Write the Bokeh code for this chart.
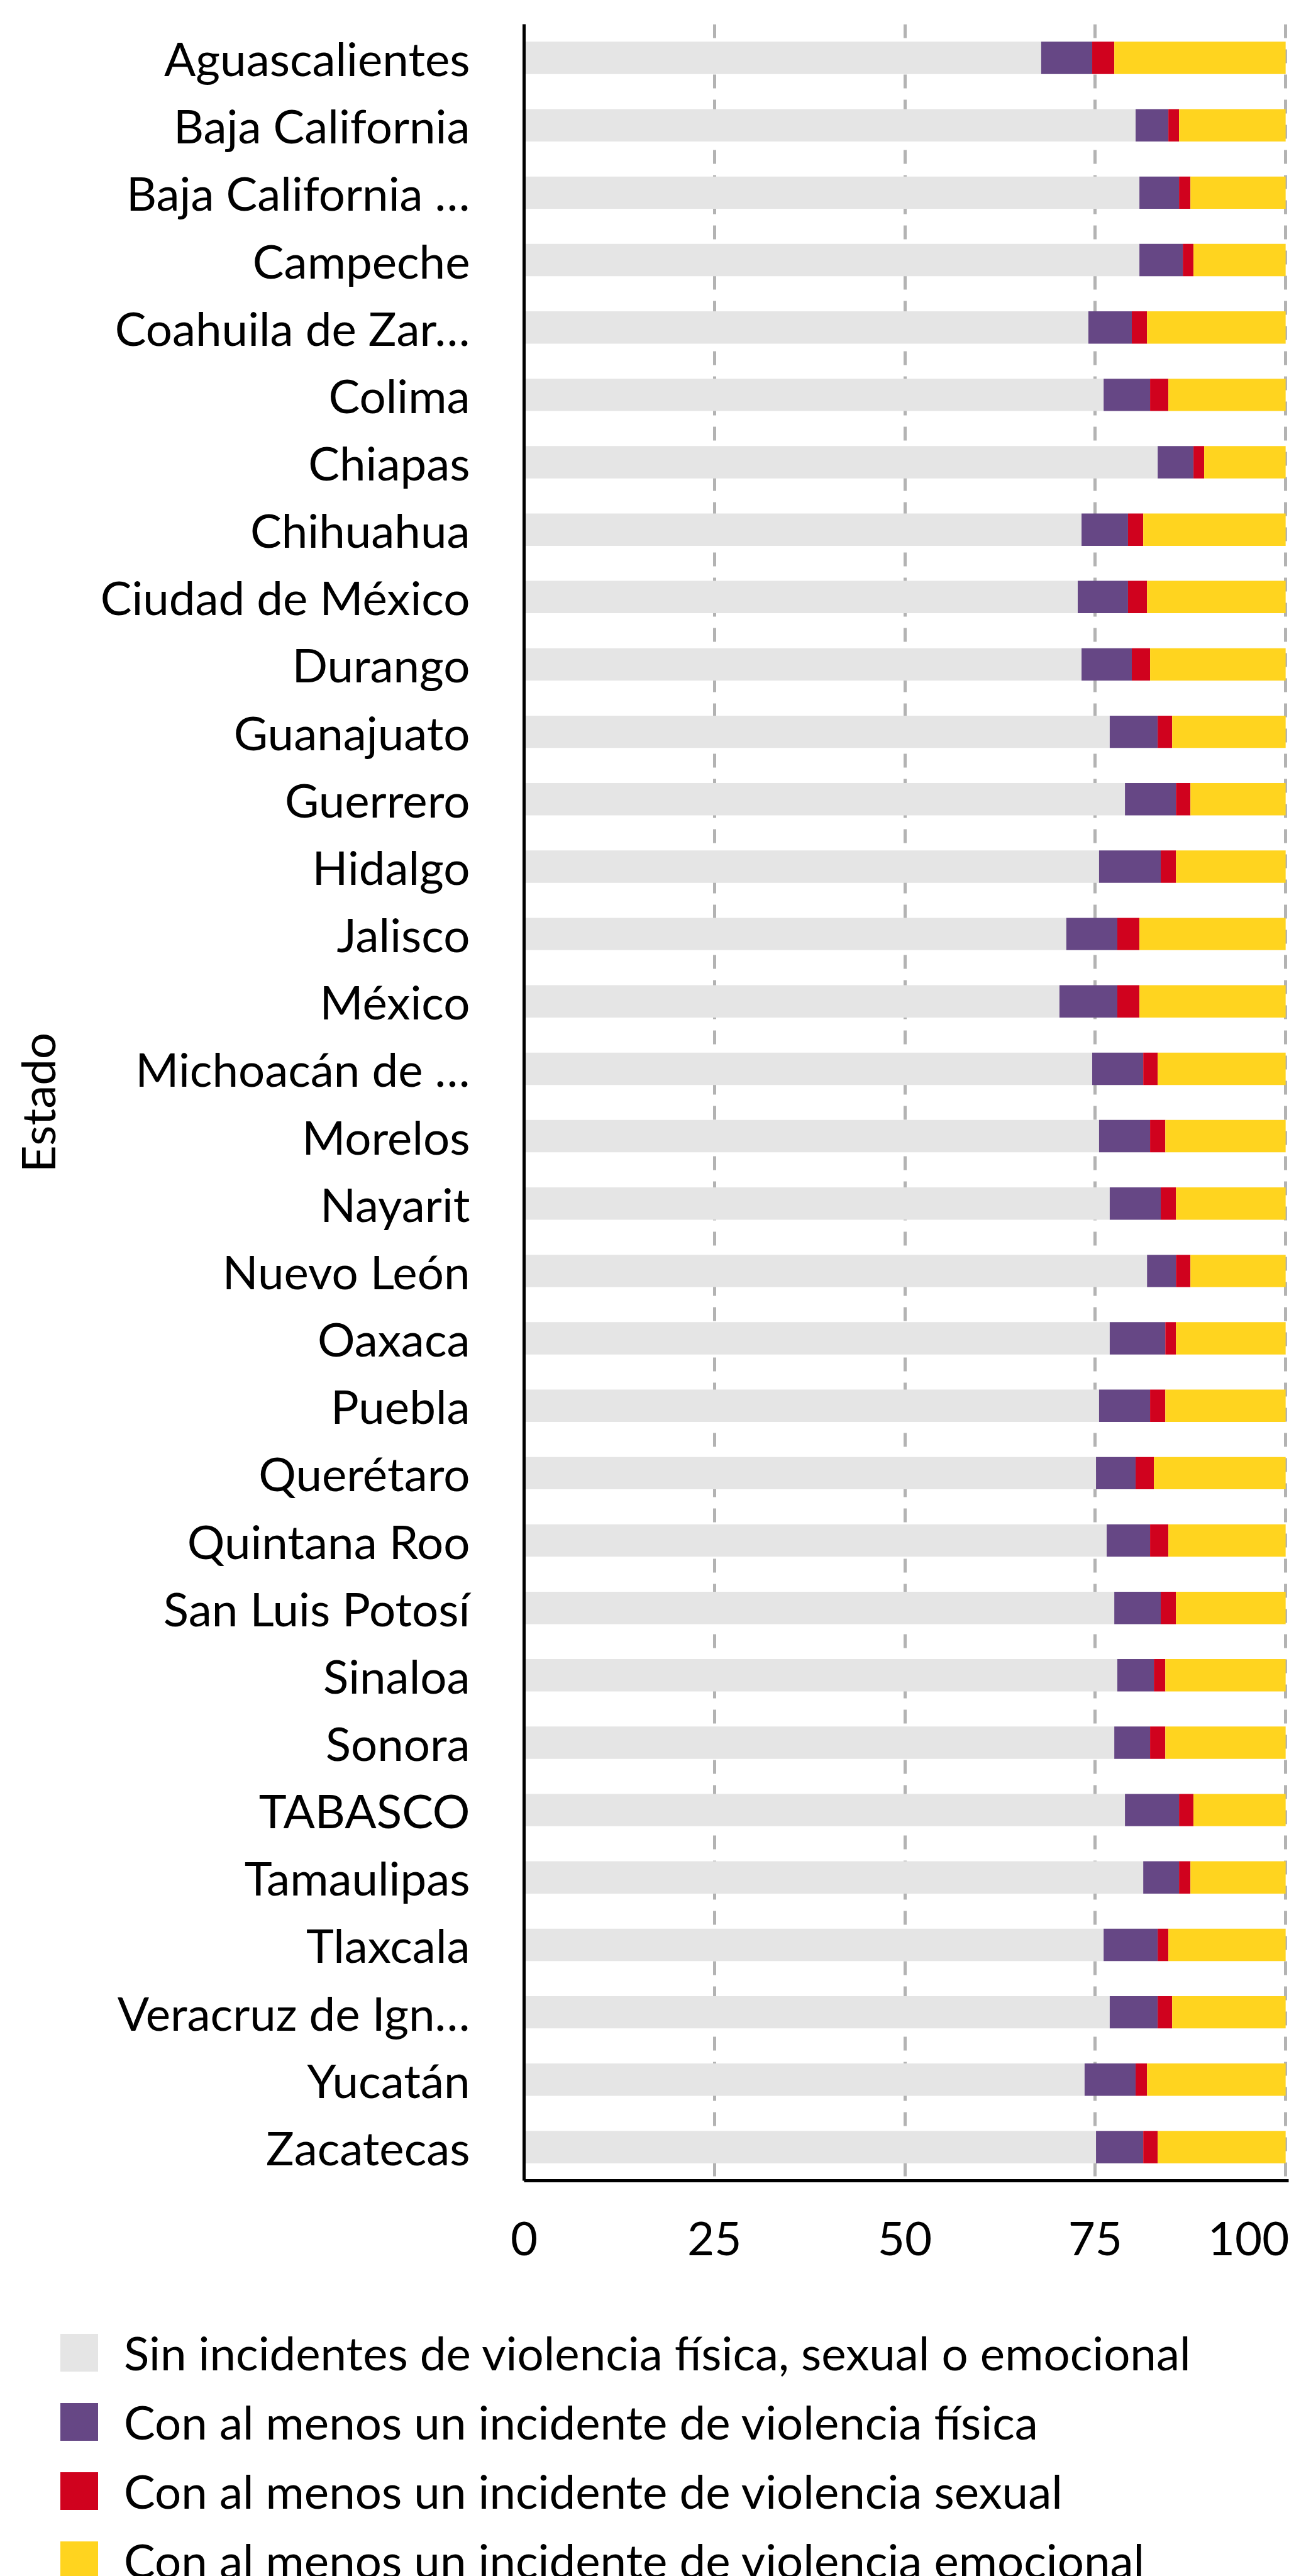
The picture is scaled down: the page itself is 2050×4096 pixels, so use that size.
from bokeh.plotting import figure
from bokeh.layouts import column
from bokeh.models import ColumnDataSource, FactorRange, Range1d, FixedTicker, Legend, LegendItem
from bokeh.embed import file_html
from bokeh.resources import INLINE

estados = ["Aguascalientes", "Baja California", "Baja California …", "Campeche",
           "Coahuila de Zar…", "Colima", "Chiapas", "Chihuahua", "Ciudad de México",
           "Durango", "Guanajuato", "Guerrero", "Hidalgo", "Jalisco", "México",
           "Michoacán de …", "Morelos", "Nayarit", "Nuevo León", "Oaxaca", "Puebla",
           "Querétaro", "Quintana Roo", "San Luis Potosí", "Sinaloa", "Sonora",
           "TABASCO", "Tamaulipas", "Tlaxcala", "Veracruz de Ign…", "Yucatán", "Zacatecas"]

sin_violencia = [67.9, 80.3, 80.8, 80.8, 74.1, 76.1, 83.2, 73.2, 72.7, 73.2, 76.9, 78.9,
                 75.5, 71.2, 70.3, 74.6, 75.5, 76.9, 81.8, 76.9, 75.5, 75.1, 76.5, 77.5,
                 77.9, 77.5, 78.9, 81.3, 76.1, 76.9, 73.6, 75.1]
fisica = [6.7, 4.3, 5.2, 5.7, 5.7, 6.1, 4.7, 6.1, 6.6, 6.6, 6.3, 6.7,
          8.1, 6.7, 7.6, 6.7, 6.7, 6.7, 3.8, 7.3, 6.7, 5.2, 5.7, 6.1,
          4.8, 4.7, 7.1, 4.7, 7.1, 6.3, 6.7, 6.2]
sexual = [2.9, 1.4, 1.5, 1.4, 2.0, 2.4, 1.4, 2.0, 2.5, 2.4, 1.9, 1.9,
          2.0, 2.9, 2.9, 1.9, 2.0, 2.0, 1.9, 1.4, 2.0, 2.4, 2.4, 2.0,
          1.5, 2.0, 1.9, 1.5, 1.4, 1.9, 1.5, 1.9]
emocional = [22.5, 14.0, 12.5, 12.1, 18.2, 15.4, 10.7, 18.7, 18.2, 17.8, 14.9, 12.5,
             14.4, 19.2, 19.2, 16.8, 15.8, 14.4, 12.5, 14.4, 15.8, 17.3, 15.4, 14.4,
             15.8, 15.8, 12.1, 12.5, 15.4, 14.9, 18.2, 16.8]

series_keys = ["sin", "fisica", "sexual", "emocional"]
series_labels = ["Sin incidentes de violencia física, sexual o emocional",
                 "Con al menos un incidente de violencia física",
                 "Con al menos un incidente de violencia sexual",
                 "Con al menos un incidente de violencia emocional"]
colors = ["#E5E5E5", "#664785", "#D0021E", "#FFD41F"]
x_ticks = [0, 25, 50, 75, 100]

source = ColumnDataSource(dict(estado=estados, sin=sin_violencia, fisica=fisica,
                               sexual=sexual, emocional=emocional))

FONT = "Lato"
FS = "74.5px"
W = 2050
H_MAIN = 3648
H_LEG = 448

p = figure(y_range=FactorRange(factors=list(reversed(estados)), range_padding=0),
           x_range=Range1d(0, 100.4),
           width=W, height=H_MAIN, output_backend="svg", toolbar_location=None,
           min_border_left=833, min_border_right=1, min_border_top=38,
           min_border_bottom=181)
p.outline_line_color = None
p.frame_align = False

p.hbar_stack(series_keys, y="estado", height=0.48, color=colors,
             line_color=None, source=source)

p.ygrid.grid_line_color = None
p.xgrid.grid_line_color = "#B3B3B3"
p.xgrid.grid_line_width = 5
p.xgrid.grid_line_dash = "22 18"
p.xgrid.grid_line_dash_offset = 33
p.xgrid.ticker = FixedTicker(ticks=x_ticks)

p.xaxis.ticker = FixedTicker(ticks=x_ticks)
for ax in (p.xaxis[0], p.yaxis[0]):
    ax.axis_line_color = "black"
    ax.axis_line_width = 5
    ax.major_tick_line_color = None
    ax.minor_tick_line_color = None
    ax.major_tick_out = 0
    ax.major_tick_in = 0
    ax.major_label_text_font = FONT
    ax.major_label_text_font_size = FS
    ax.major_label_text_color = "black"
    ax.axis_label_text_font = FONT
    ax.axis_label_text_font_size = FS
    ax.axis_label_text_font_style = "normal"
    ax.axis_label_text_color = "black"

p.xaxis.major_label_standoff = 65
p.yaxis.major_label_standoff = 86
p.yaxis.axis_label = "Estado"
p.yaxis.axis_label_standoff = 53

# legend panel (its key renderers have zero size, only their legend swatches show)
pl = figure(width=W, height=H_LEG, x_range=Range1d(0, 1), y_range=Range1d(0, 1),
            output_backend="svg", toolbar_location=None,
            x_axis_location=None, y_axis_location=None,
            min_border_left=88, min_border_top=47, min_border_right=0, min_border_bottom=0)
pl.outline_line_color = None
pl.frame_align = False
pl.xgrid.visible = False
pl.ygrid.visible = False

items = []
for lbl, c in zip(series_labels, colors):
    r = pl.hbar(y=[0.5], left=[0.5], right=[0.5], height=0, fill_color=c, line_color=None)
    items.append(LegendItem(label=lbl, renderers=[r]))

legend = Legend(items=items, location="top_left", orientation="vertical",
                glyph_width=75, glyph_height=75, label_standoff=34, spacing=20,
                padding=0, margin=0, border_line_color=None, background_fill_alpha=0,
                label_text_font=FONT, label_text_font_size=FS, label_text_color="black")
pl.add_layout(legend, "center")

layout = column(p, pl, spacing=0)
open("out.html", "w").write(file_html(layout, INLINE))
